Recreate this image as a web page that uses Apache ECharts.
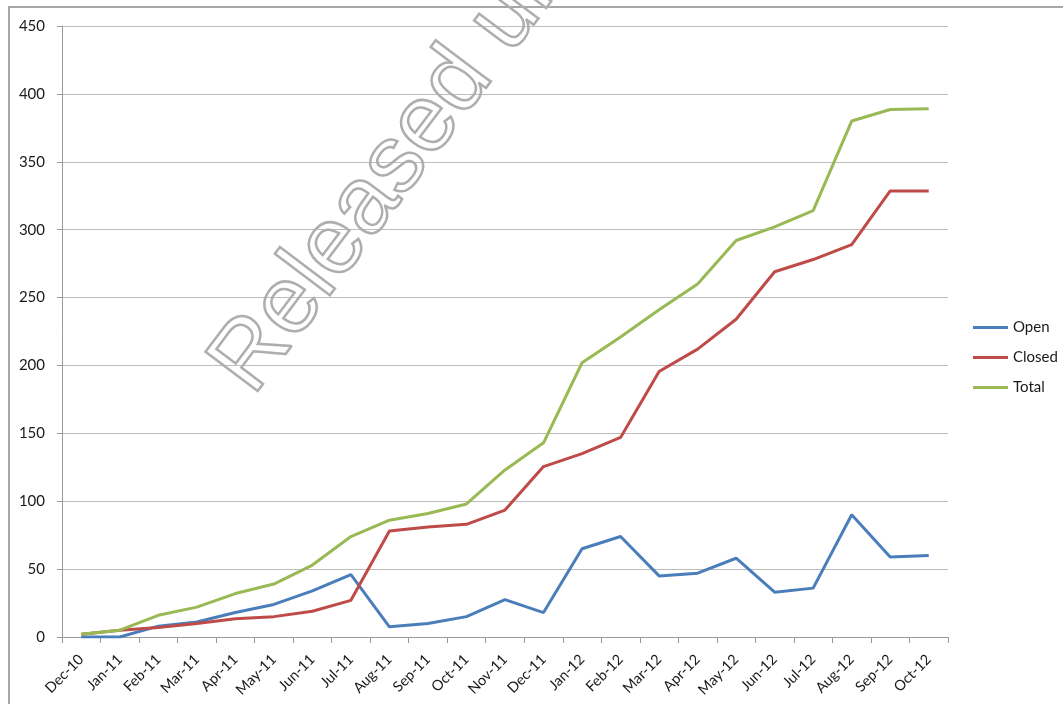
<!DOCTYPE html>
<html>
<head>
<meta charset="utf-8">
<script src="https://cdn.jsdelivr.net/npm/echarts@6/dist/echarts.min.js"></script>
<style>
  html, body { margin: 0; padding: 0; background: #fff; }
  #chart { width: 1063px; height: 704px; }
</style>
</head>
<body>
<div id="chart"></div>
<script>
// categories (months)
var months = ['Dec-10', 'Jan-11', 'Feb-11', 'Mar-11', 'Apr-11', 'May-11', 'Jun-11', 'Jul-11',
  'Aug-11', 'Sep-11', 'Oct-11', 'Nov-11', 'Dec-11', 'Jan-12', 'Feb-12', 'Mar-12', 'Apr-12',
  'May-12', 'Jun-12', 'Jul-12', 'Aug-12', 'Sep-12', 'Oct-12'];

// series values
var openData = [0, 0, 8, 11, 18, 24, 34, 46, 7.5, 10, 15, 27.5, 18, 65, 74, 45, 47, 58, 33, 36, 90, 59, 60];
var closedData = [2, 5, 7, 10, 13.5, 15, 19, 27, 78, 81, 83, 93.5, 125.5, 135, 147, 195.5, 212, 234, 269, 278, 289, 328.5, 328.5];
var totalData = [2, 5, 16, 22, 32, 39, 53, 74, 86, 91, 98, 123, 143, 202, 221, 241, 260, 292, 302, 314, 380, 388.5, 389];

var seriesNames = ['Open', 'Closed', 'Total'];
var seriesColors = ['#4a7ebb', '#be4b48', '#98b954'];

var FONT = 'Lato, "Noto Sans", sans-serif';

var myChart = echarts.init(document.getElementById('chart'));

var option = {
    backgroundColor: '#fff',
    animation: false,
    color: seriesColors,
    textStyle: { fontFamily: FONT },
    grid: {
        left: 62,
        right: 115,
        top: 26,
        bottom: 67
    },
    legend: {
        orient: 'vertical',
        left: 973,
        top: 320,
        padding: 0,
        itemGap: 15,
        icon: 'rect',
        itemWidth: 35,
        itemHeight: 3,
        textStyle: { fontSize: 15, color: '#1a1a1a', fontFamily: FONT },
        data: seriesNames
    },
    xAxis: {
        type: 'category',
        boundaryGap: true,
        data: months,
        axisLine: { lineStyle: { color: '#9a9a9a', width: 1 } },
        axisTick: { show: true, interval: 0, length: 6, lineStyle: { color: '#9a9a9a' } },
        axisLabel: {
            interval: 0,
            rotate: 45,
            margin: 20,
            fontSize: 14.5,
            color: '#1a1a1a',
            fontFamily: FONT
        },
        splitLine: { show: false }
    },
    yAxis: {
        type: 'value',
        min: 0,
        max: 450,
        interval: 50,
        axisLine: { show: true, lineStyle: { color: '#9a9a9a', width: 1 } },
        axisTick: { show: true, length: 5, inside: false, lineStyle: { color: '#9a9a9a' } },
        axisLabel: {
            margin: 17,
            fontSize: 15,
            color: '#1a1a1a',
            fontFamily: FONT
        },
        splitLine: { show: true, lineStyle: { color: '#bdbdbd', width: 1 } }
    },
    series: [{
        name: seriesNames[0],
        type: 'line',
        symbol: 'none',
        lineStyle: { width: 3, color: seriesColors[0] },
        data: openData
    }, {
        name: seriesNames[1],
        type: 'line',
        symbol: 'none',
        lineStyle: { width: 3, color: seriesColors[1] },
        data: closedData
    }, {
        name: seriesNames[2],
        type: 'line',
        symbol: 'none',
        lineStyle: { width: 3, color: seriesColors[2] },
        data: totalData
    }],
    graphic: [{
        // outer chart-area border
        type: 'rect',
        shape: { x: 9, y: 7, width: 1200, height: 800 },
        style: { fill: 'none', stroke: '#8a8a8a', lineWidth: 1.5 },
        silent: true,
        z: 0
    }, {
        // hollow watermark
        type: 'text',
        x: 270,
        y: 410,
        rotation: 53 * Math.PI / 180,
        silent: true,
        z: 100,
        style: {
            text: 'Released under the Official Information Act 1982',
            font: '95px "Liberation Sans", Arial, sans-serif',
            fill: 'rgba(255,255,255,0)',
            stroke: '#aeaeae',
            lineWidth: 2.5,
            textAlign: 'left',
            textVerticalAlign: 'bottom'
        }
    }]
};

option && myChart.setOption(option);
</script>
</body>
</html>
